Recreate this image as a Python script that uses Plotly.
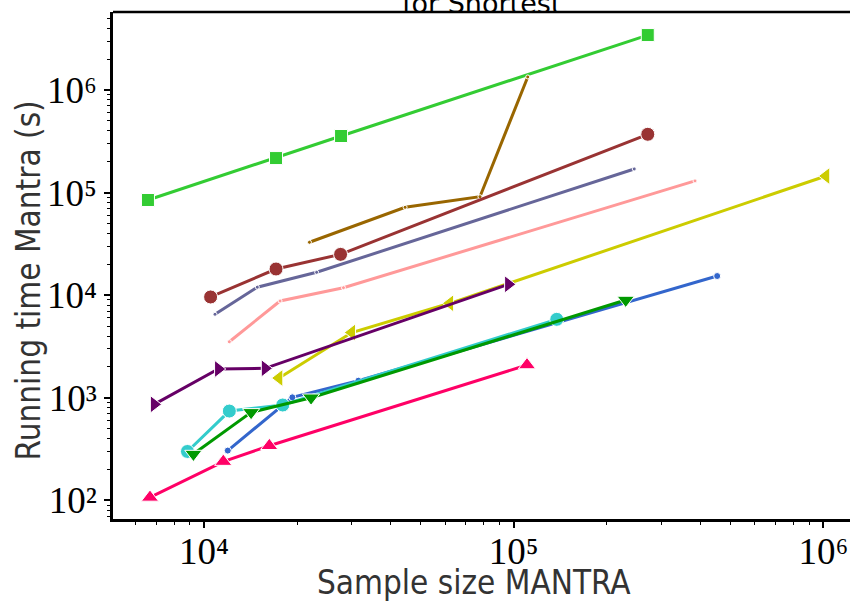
import plotly.graph_objects as go

# ---- data ----
sq_x = [6590, 17080, 27700, 271000]
sq_y = [84700, 217000, 356000, 3430000]

brown_x = [21900, 44600, 77800, 111000]
brown_y = [32800, 71900, 91200, 1340000]

dred_x = [10500, 17080, 27600, 271000]
dred_y = [9610, 18000, 25000, 370000]

slate_x = [10850, 14860, 23100, 245000]
slate_y = [6520, 11970, 16720, 170000]

pink_x = [12070, 17600, 28200, 385000]
pink_y = [3520, 8780, 11830, 130000]

yel_x = [17470, 30000, 62200, 1020000]
yel_y = [1560, 4330, 8340, 145000]

purp_x = [6900, 11120, 15740, 96100]
purp_y = [864, 1909, 1939, 12770]

cyan_x = [8840, 12070, 17950, 137700]
cyan_y = [300, 743, 851, 5820]

grn_x = [9240, 14190, 22160, 230000]
grn_y = [283, 722, 1002, 8980]

blue_x = [11930, 19280, 31500, 454000]
blue_y = [306, 1011, 1468, 15380]

red_x = [6690, 11540, 16250, 110400]
red_y = [107, 239, 341, 2088]

x_tickvals = [1e4, 1e5, 1e6]
x_ticktext = ["10⁴", "10⁵", "10⁶"]
y_tickvals = [1e2, 1e3, 1e4, 1e5, 1e6]
y_ticktext = ["10²", "10³", "10⁴", "10⁵", "10⁶"]

series = [
    (sq_x, sq_y, "#33cc33", "square", 13),
    (brown_x, brown_y, "#996600", "circle", 4),
    (dred_x, dred_y, "#993333", "circle", 14),
    (slate_x, slate_y, "#666699", "circle", 4),
    (pink_x, pink_y, "#ff9999", "circle", 4),
    (yel_x, yel_y, "#cccc00", "triangle-left", 15),
    (purp_x, purp_y, "#660066", "triangle-right", 15),
    (blue_x, blue_y, "#3366cc", "circle", 7),
    (cyan_x, cyan_y, "#33cccc", "circle", 14),
    (grn_x, grn_y, "#009900", "triangle-down", 15),
    (red_x, red_y, "#ff0066", "triangle-up", 15),
]

fig = go.Figure()
for xs, ys, col, sym, sz in series:
    fig.add_trace(go.Scatter(
        x=xs, y=ys, mode="lines+markers",
        line=dict(color=col, width=3),
        marker=dict(symbol=sym, size=sz, color=col, line=dict(color="white", width=1)),
        showlegend=False,
    ))

tickfont = dict(family="Liberation Serif", size=37, color="black")
titlefont = dict(family="DejaVu Sans Condensed, Roboto, DejaVu Sans", size=33, color="#333333")
axcommon = dict(
    type="log", showline=True, linecolor="black", linewidth=2.5,
    ticks="outside", ticklen=6, tickwidth=1.5, tickcolor="black",
    showgrid=False, zeroline=False, tickmode="array",
    tickfont=tickfont, automargin=False, ticklabeloverflow="allow",
    minor=dict(ticks="outside", ticklen=3, tickwidth=1, tickcolor="black", showgrid=False,
               tickmode="array",
               tickvals=[m * 10 ** e for e in range(1, 7) for m in range(2, 10)]),
)

fig.update_layout(
    width=850, height=605,
    margin=dict(l=113, r=0, t=12, b=86),
    paper_bgcolor="white", plot_bgcolor="white",
    xaxis=dict(axcommon, range=[3.706, 6.086], tickvals=x_tickvals, ticktext=x_ticktext,
               ticklabelstandoff=-8),
    yaxis=dict(axcommon, range=[1.819, 6.760], tickvals=y_tickvals, ticktext=y_ticktext,
               ticklabelstandoff=0),
    shapes=[dict(type="line", xref="paper", yref="paper", x0=0, x1=1, y0=1, y1=1,
                 line=dict(color="black", width=2.5))],
    annotations=[
        dict(text="for Shortest", xref="paper", yref="paper", x=0.5, y=1.0,
             yshift=9, xanchor="center", yanchor="middle", showarrow=False,
             font=dict(family="DejaVu Sans", size=27, color="black")),
        dict(text="Running time Mantra (s)", xref="paper", yref="paper",
             x=0, xshift=-85, y=0.5, yshift=-15, textangle=-90,
             xanchor="center", yanchor="middle", showarrow=False, font=titlefont),
        dict(text="Sample size MANTRA", xref="paper", yref="paper",
             x=0.49, y=0, yshift=-63, xanchor="center", yanchor="middle",
             showarrow=False, font=titlefont),
    ],
)

fig.write_html("out.html")
